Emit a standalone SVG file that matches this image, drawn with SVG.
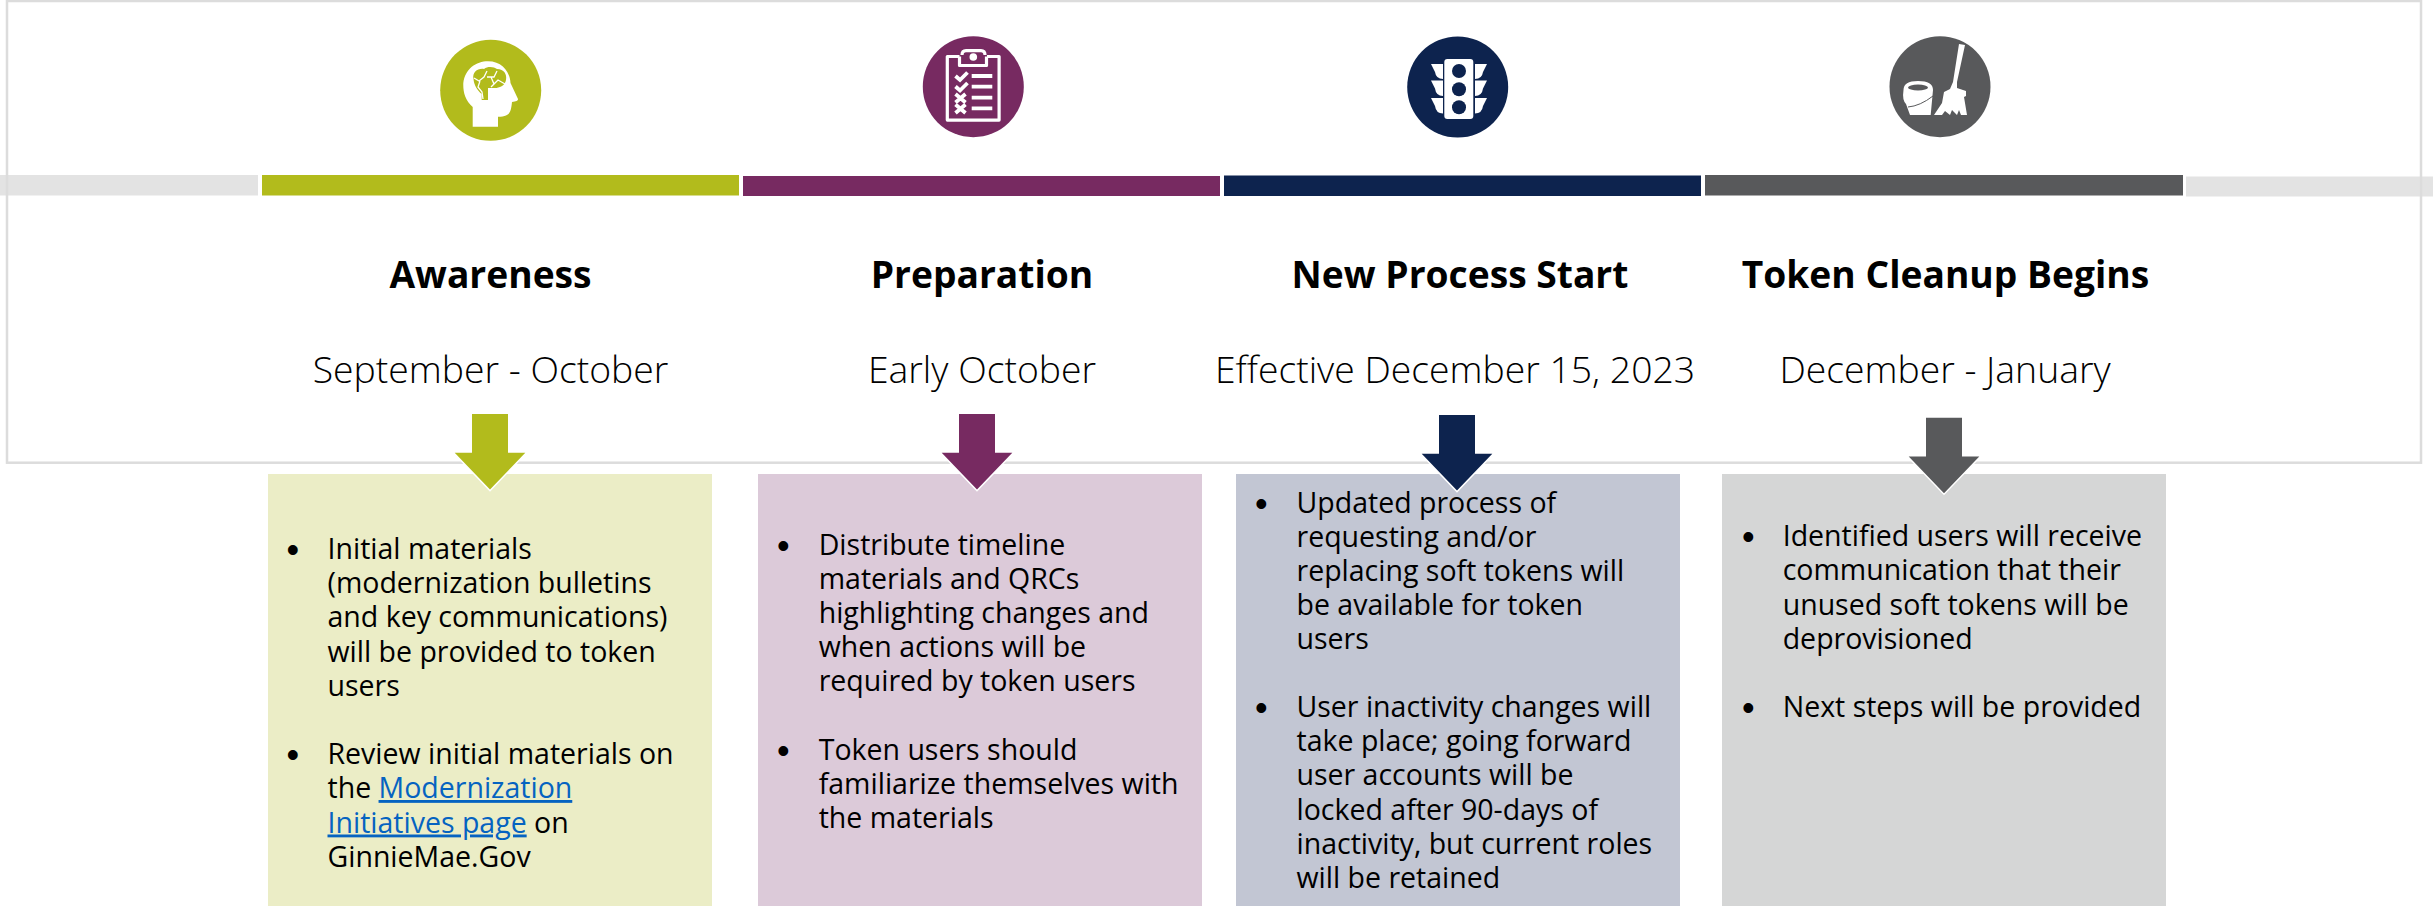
<svg xmlns="http://www.w3.org/2000/svg" width="2433" height="906" viewBox="0 0 2433 906">
<style>
text{font-family:"Open Sans","Noto Sans","Liberation Sans",sans-serif;fill:#000}
.h{font-size:37.2px;font-weight:700;text-anchor:middle}
.d{font-size:37.33px;font-weight:300;text-anchor:middle}
.b{font-size:28.5px}
.k{font-family:"Liberation Sans",sans-serif;font-size:36px;text-anchor:middle}
.l{fill:#0563c1;text-decoration:underline}
.w{fill:#fff}
.s{fill:none;stroke:#fff}
</style>
<defs>
<path id="arrow" d="M-18 0H18V38.700H35.300L0 75.500L-35.300 38.700H-18Z" stroke="#fff" stroke-width="3" paint-order="stroke"/>
</defs>
<rect width="2433" height="906" fill="#fff"/>
<g id="timeline">
<rect x="0" y="175" width="258" height="20.500" fill="#e3e3e3"/>
<rect x="262" y="175" width="477" height="20.500" fill="#b2bb1c"/>
<rect x="743" y="176" width="477" height="20" fill="#772a61"/>
<rect x="1224" y="175.500" width="477" height="20.500" fill="#0d234e"/>
<rect x="1705" y="175" width="478" height="20.500" fill="#58595b"/>
<rect x="2186" y="176.500" width="247" height="20" fill="#e3e3e3"/>
</g>
<rect id="frame" x="7" y="1" width="2414" height="461.700" fill="none" stroke="#dcdcdc" stroke-width="2.500"/>
<g id="awareness">
<circle cx="490.700" cy="90.300" r="50.500" fill="#b2bb1c"/>
<path class="w" d="M472.700 126.700V107C465 100 463 92 463.300 83C465 69 476 61.300 488 61.300C502 61.300 510 72 510.500 83L518 99Q518.500 101.500 512 102C511 112 510 116.700 498 116.700V126.700Z"/>
<path d="M473.500 79C472 72 478 68 484 69C488 66 494 67 497 69C504 69 507 74 506 80C505 86 499 88 495 88H488V100H481.700V94C477 90 474 85 473.500 79Z" fill="#b2bb1c"/>
<path d="M474 78L479 81L484 77L487 71M480 81L478 87L482 92L483 99M487 77H494L497 71M491 77L494 84L498 80L505 84M494 84L491 87" class="s" stroke-width="1.300"/>
<text class="h" x="490.500" y="288">Awareness</text>
<text class="d" x="490.500" y="383">September - October</text>
<rect x="268" y="474" width="444" height="432" fill="#ebedc6"/>
<text class="k" x="292.700" y="561.500">•</text><text class="k" x="292.700" y="766.500">•</text>
<text class="b" x="327.500" y="558.500">Initial materials</text>
<text class="b" x="327.500" y="593">(modernization bulletins</text>
<text class="b" x="327.500" y="627">and key communications)</text>
<text class="b" x="327.500" y="661.500">will be provided to token</text>
<text class="b" x="327.500" y="696">users</text>
<text class="b" x="327.500" y="763.500">Review initial materials on</text>
<text class="b" x="327.500" y="798">the <tspan class="l">Modernization</tspan></text>
<text class="b" x="327.500" y="832.500"><tspan class="l">Initiatives page</tspan> on</text>
<text class="b" x="327.500" y="866.500">GinnieMae.Gov</text>
</g>
<g id="preparation">
<circle cx="973.300" cy="86.700" r="50.500" fill="#772a61"/>
<path class="s" stroke-width="3.200" stroke-linejoin="round" d="M959.500 56.500H947.300V120.100H999.100V56.500H987M959.500 56.500V65.500H986.500V56.500M962 55Q962 50.600 966 50.600H981Q985 50.600 985 55"/>
<circle cx="973.300" cy="57" r="3.800" class="w"/>
<path class="s" stroke-width="3.800" d="M955.500 76L960 80L967.500 72.500M955.500 86.500L960 90.500L967.500 83M955.500 94L965.500 102.500M965.500 94L955.500 102.500M955.500 104.500L965.500 113M965.500 104.500L955.500 113M971.700 76H992.300M971.700 86.700H992.300M971.700 97.700H992.300M971.700 108.300H992.300"/>
<text class="h" x="982" y="288">Preparation</text>
<text class="d" x="982" y="383">Early October</text>
<rect x="758" y="474" width="444" height="432" fill="#dccad9"/>
<text class="k" x="783.300" y="558">•</text><text class="k" x="783.300" y="763">•</text>
<text class="b" x="818.700" y="555">Distribute timeline</text>
<text class="b" x="818.700" y="589">materials and QRCs</text>
<text class="b" x="818.700" y="623">highlighting changes and</text>
<text class="b" x="818.700" y="657">when actions will be</text>
<text class="b" x="818.700" y="691">required by token users</text>
<text class="b" x="818.700" y="759.500">Token users should</text>
<text class="b" x="818.700" y="793.500">familiarize themselves with</text>
<text class="b" x="818.700" y="827.500">the materials</text>
</g>
<g id="new-process">
<circle cx="1457.700" cy="87" r="50.500" fill="#0d234e"/>
<rect class="w" x="1444.300" y="59" width="29" height="60" rx="3"/>
<circle cx="1459" cy="71" r="7" fill="#0d234e"/><circle cx="1459" cy="89.300" r="7" fill="#0d234e"/><circle cx="1459" cy="107.300" r="7" fill="#0d234e"/>
<path class="w" d="M1431 64H1443V79Q1436 79 1435 72Z M1431 80.500H1443V96Q1436 96 1435 88.500Z M1431 98H1443V113.500Q1436 113.500 1435 106Z M1487 64H1475V79Q1482 79 1483 72Z M1487 80.500H1475V96Q1482 96 1483 88.500Z M1487 98H1475V113.500Q1482 113.500 1483 106Z"/>
<text class="h" x="1460" y="288">New Process Start</text>
<text class="d" x="1455" y="383">Effective December 15, 2023</text>
<rect x="1236" y="474" width="444" height="432" fill="#c2c6d3"/>
<text class="k" x="1261.300" y="516">•</text><text class="k" x="1261.300" y="720">•</text>
<text class="b" x="1296.500" y="512.700">Updated process of</text>
<text class="b" x="1296.500" y="546.700">requesting and/or</text>
<text class="b" x="1296.500" y="580.500">replacing soft tokens will</text>
<text class="b" x="1296.500" y="614.500">be available for token</text>
<text class="b" x="1296.500" y="648.500">users</text>
<text class="b" x="1296.500" y="717">User inactivity changes will</text>
<text class="b" x="1296.500" y="751">take place; going forward</text>
<text class="b" x="1296.500" y="785">user accounts will be</text>
<text class="b" x="1296.500" y="819.500">locked after 90-days of</text>
<text class="b" x="1296.500" y="853.500">inactivity, but current roles</text>
<text class="b" x="1296.500" y="887.500">will be retained</text>
</g>
<g id="token-cleanup">
<circle cx="1940" cy="86.700" r="50.500" fill="#58595b"/>
<path class="w" d="M1959 44L1965 45L1957 82L1957 88L1966 91L1966 96L1964 97L1967 115H1961L1959 110L1957 115L1952 110L1950 115L1945 111L1942 115H1934L1942 103L1944 92L1950 89L1953 82Z"/>
<path class="w" d="M1903.500 90Q1903.500 81 1918 81Q1933 81 1933 90L1930.700 115H1910L1906 104Q1902 100 1903.500 90Z"/>
<ellipse cx="1918" cy="87.500" rx="10" ry="3" fill="#58595b"/>
<path d="M1908 107Q1920 106 1933 96" fill="none" stroke="#58595b" stroke-width="1"/>
<text class="h" x="1945.500" y="288">Token Cleanup Begins</text>
<text class="d" x="1945" y="383">December - January</text>
<rect x="1722" y="474" width="444" height="432" fill="#d5d6d6"/>
<text class="k" x="1748.300" y="548.500">•</text><text class="k" x="1748.300" y="720">•</text>
<text class="b" x="1782.700" y="546">Identified users will receive</text>
<text class="b" x="1782.700" y="580">communication that their</text>
<text class="b" x="1782.700" y="614.500">unused soft tokens will be</text>
<text class="b" x="1782.700" y="648.500">deprovisioned</text>
<text class="b" x="1782.700" y="716.700">Next steps will be provided</text>
</g>
<g id="connectors">
<use href="#arrow" x="490" y="414" fill="#b2bb1c"/>
<use href="#arrow" x="977" y="414" fill="#772a61"/>
<use href="#arrow" x="1457" y="415" fill="#0d234e"/>
<use href="#arrow" x="1944" y="417.700" fill="#58595b"/>
</g>
</svg>
